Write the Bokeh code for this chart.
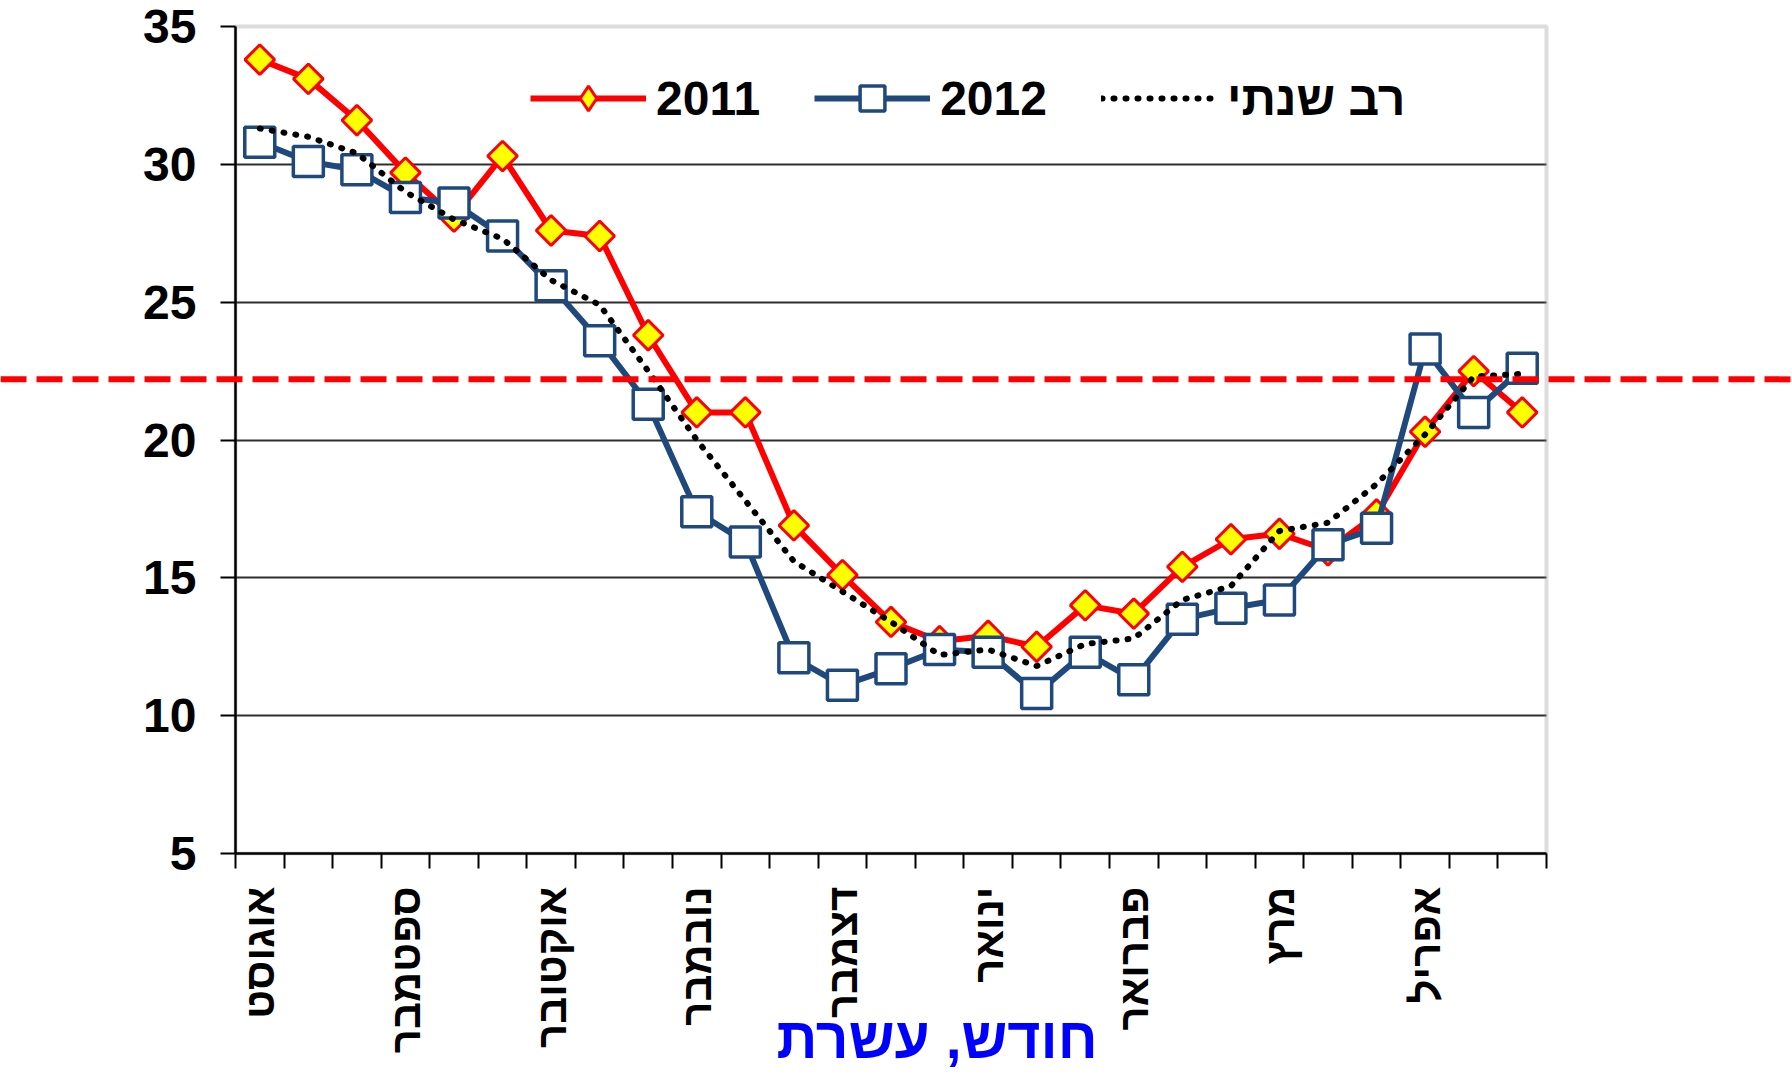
import math
from bokeh.plotting import figure
from bokeh.models import (Range1d, LinearAxis, FixedTicker, Grid, Span, BoxAnnotation, Label,
                          Legend, LegendItem)
from bokeh.embed import file_html
from bokeh.resources import INLINE

# ---------------- data ----------------
months = ["אוגוסט", "ספטמבר", "אוקטובר", "נובמבר", "דצמבר", "ינואר", "פברואר", "מרץ", "אפריל"]
dekads_per_month = 3
t2011 = [33.8, 33.1, 31.6, 29.7, 28.1, 30.3, 27.6, 27.4, 23.8, 21.0, 21.0, 16.9, 15.1, 13.4,
         12.7, 12.9, 12.5, 14.0, 13.7, 15.4, 16.4, 16.6, 16.0, 17.3, 20.3, 22.5, 21.0]
t2012 = [30.8, 30.1, 29.8, 28.8, 28.6, 27.4, 25.6, 23.6, 21.3, 17.4, 16.3, 12.1, 11.1, 11.7,
         12.4, 12.3, 10.8, 12.3, 11.3, 13.5, 13.9, 14.2, 16.2, 16.8, 23.3, 21.0, 22.6]
tmean = [31.3, 31.0, 30.4, 29.0, 28.0, 27.3, 25.8, 24.9, 22.5, 20.0, 17.8, 15.6, 14.5, 13.4,
         12.2, 12.4, 11.8, 12.6, 12.8, 14.2, 14.7, 16.7, 17.0, 18.4, 20.2, 22.3, 22.4]
threshold = 22.2
y_ticks = [5, 10, 15, 20, 25, 30, 35]
series_names = ["2011", "2012", "רב שנתי"]
x_title = "חודש, עשרת"

n = len(t2011)
xs = list(range(n))

# ---------------- layout (canvas pixels) ----------------
W, H = 1792, 1075
PL, PR = 235, 1546      # plot-area left/right
PT, PB = 26, 853        # plot-area top/bottom
ppx = (PR - PL) / n
x_lo, x_hi = -0.5, n - 0.5
x_start = x_lo - PL / ppx
x_end = x_hi + (W - PR) / ppx
y_lo, y_hi = y_ticks[0], y_ticks[-1]
ppy = (PB - PT) / (y_hi - y_lo)
y_start = y_lo - (H - PB) / ppy
y_end = y_hi + PT / ppy

FONT = "Liberation Sans"
RED, YELLOW, BLUE = "#FF0000", "#FFFF00", "#1F497D"

p = figure(width=W, height=H, output_backend="svg", toolbar_location=None,
           x_range=Range1d(x_start, x_end), y_range=Range1d(y_start, y_end),
           x_axis_location=None, y_axis_location=None,
           min_border_left=0, min_border_right=0, min_border_top=0, min_border_bottom=0)
p.outline_line_color = None
p.background_fill_color = "white"
p.border_fill_color = "white"
for g in p.grid:
    g.visible = False

# x axis (fixed at the bottom of the plot area)
xa = LinearAxis(fixed_location=y_lo, bounds=(x_lo, x_hi),
                ticker=FixedTicker(ticks=[i * dekads_per_month for i in range(len(months))],
                                   minor_ticks=[i - 0.5 for i in range(n + 1)]))
xa.major_label_overrides = {i * dekads_per_month: m for i, m in enumerate(months)}
xa.major_tick_out = 0
xa.major_tick_in = 0
xa.major_tick_line_color = None
xa.minor_tick_out = 15
xa.minor_tick_in = 0
xa.minor_tick_line_color = "black"
xa.minor_tick_line_width = 2
xa.axis_line_color = "black"
xa.axis_line_width = 2.5
xa.major_label_orientation = math.pi / 2
xa.major_label_standoff = 18
xa.major_label_text_font = FONT
xa.major_label_text_font_size = "42px"
xa.major_label_text_font_style = "bold"
xa.major_label_text_color = "black"
p.add_layout(xa, "below")

# y axis (fixed at the left of the plot area)
ya = LinearAxis(fixed_location=x_lo, bounds=(y_lo, y_hi), ticker=FixedTicker(ticks=y_ticks))
ya.major_tick_out = 15
ya.major_tick_in = 0
ya.major_tick_line_color = "black"
ya.major_tick_line_width = 2
ya.minor_tick_line_color = None
ya.axis_line_color = "black"
ya.axis_line_width = 2.5
ya.major_label_standoff = 24
ya.major_label_text_font = FONT
ya.major_label_text_font_size = "48px"
ya.major_label_text_font_style = "bold"
ya.major_label_text_color = "black"
p.add_layout(ya, "left")

# grid and plot-area border
grid = Grid(dimension=1, ticker=FixedTicker(ticks=y_ticks[1:-1]), cross_bounds=(x_lo, x_hi),
            grid_line_color="#2e2e2e", grid_line_width=2.2)
p.add_layout(grid)
p.add_layout(BoxAnnotation(left=x_lo, right=x_hi, bottom=y_lo, top=y_hi,
                           fill_color=None, line_color="#8c8c8c", line_width=4, level="underlay"))

# series
l11 = p.line(xs, t2011, line_color=RED, line_width=6, line_join="round")
s11 = p.scatter(xs, t2011, marker="square", angle=math.pi / 4, size=21, fill_color=YELLOW,
                line_color=RED, line_width=3)
k11 = p.scatter(xs, t2011, marker="diamond", size=21, fill_color=YELLOW,
                line_color=RED, line_width=3, visible=False)   # legend swatch only
l12 = p.line(xs, t2012, line_color=BLUE, line_width=6, line_join="round")
s12 = p.scatter(xs, t2012, marker="square", size=30, fill_color="white",
                line_color=BLUE, line_width=3.5)
lm = p.line(xs, tmean, line_color="black", line_width=6, line_dash="1 11", line_cap="round")

# threshold
p.add_layout(Span(location=threshold, dimension="width", line_color=RED, line_width=6,
                  line_dash="26 10", level="overlay"))

# legend
GH = 62
leg = Legend(items=[LegendItem(label=series_names[0], renderers=[l11, k11]),
                    LegendItem(label=series_names[1], renderers=[l12, s12]),
                    LegendItem(label=series_names[2], renderers=[lm])],
             orientation="horizontal", location=(530, H - 98 - GH // 2),
             padding=0, margin=0, spacing=54, glyph_width=116, glyph_height=GH,
             label_height=GH, label_standoff=10, border_line_color=None,
             background_fill_alpha=0, label_text_font=FONT, label_text_font_size="48px",
             label_text_font_style="bold", label_text_color="black")
p.add_layout(leg)

# x title
p.add_layout(Label(x=13.95, y=-1.70, text=x_title, text_align="center", text_baseline="alphabetic",
                   text_font=FONT, text_font_size="57px", text_font_style="bold", text_color="#0000FF"))

open("out.html", "w").write(file_html(p, INLINE))
